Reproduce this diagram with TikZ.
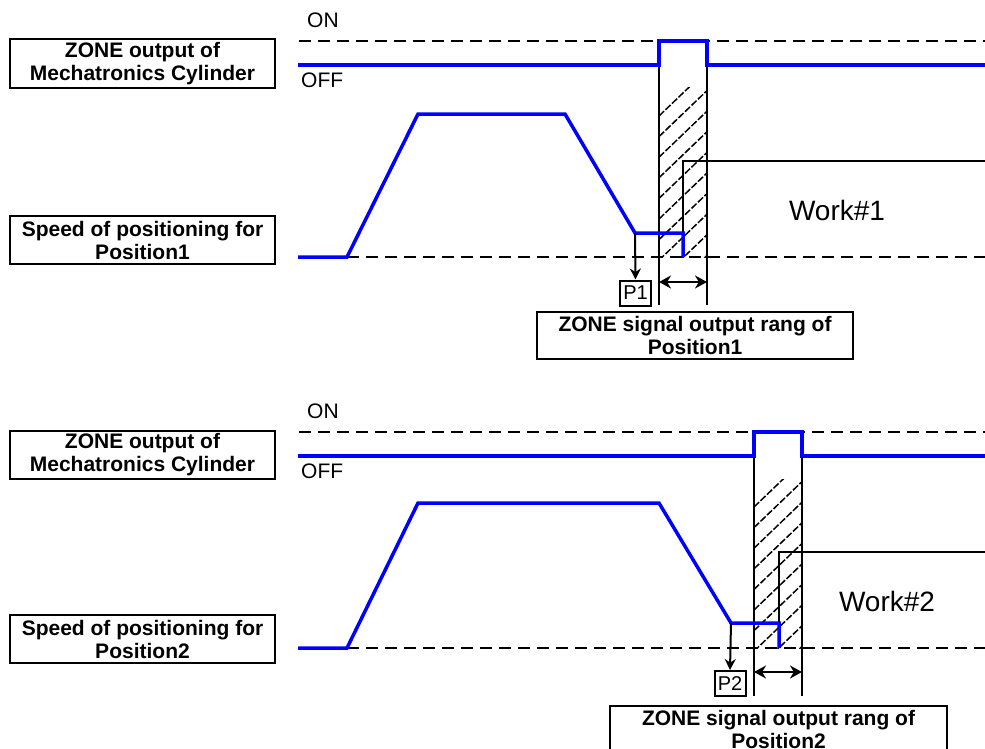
\documentclass[tikz,border=0pt]{standalone}
\usepackage{fontspec}
\setmainfont{Liberation Sans}
\usetikzlibrary{arrows.meta, positioning}
\definecolor{sigblue}{RGB}{0,0,255}
\tikzstyle{labelbox} = [rectangle, draw=black, line width=2bp, minimum width=265bp, minimum height=48bp, inner sep=0pt, align=center, font=\bfseries\fontsize{21bp}{23bp}\selectfont]
\tikzstyle{posbox} = [rectangle, draw=black, line width=2bp, minimum width=31bp, minimum height=25bp, inner sep=0pt, font=\fontsize{20bp}{22bp}\selectfont]
\tikzstyle{levtext} = [inner sep=0pt, anchor=west, font=\fontsize{21bp}{23bp}\selectfont]
\tikzstyle{worktext} = [inner sep=0pt, font=\fontsize{28bp}{30bp}\selectfont]
\tikzstyle{signal} = [draw=sigblue, line width=3.5bp]
\tikzstyle{dashline} = [line width=2.5bp, dash pattern=on 12bp off 7bp]
\tikzstyle{thinline} = [line width=2.5bp]
\tikzstyle{hatch} = [line width=1.5bp, dash pattern=on 7bp off 2bp]
\tikzstyle{arrow} = [line width=2bp, -{Stealth[length=11bp,width=11bp]}]
\tikzstyle{dblarrow} = [line width=2.5bp, {Stealth[length=12bp,width=13bp]}-{Stealth[length=12bp,width=13bp]}]

\begin{document}
\begin{tikzpicture}[x=1bp, y=-1bp]
    \useasboundingbox (0,0) rectangle (985,749);

    % Position1
    \begin{scope}
    \draw [dashline] (299,41) -- (985,41);
    \draw [dashline] (347,257) -- (985,257);
    \begin{scope}
        \clip (659,88) rectangle (707,257);
        \foreach \k in {0,...,11}
            \draw [hatch] (659,116+20.6*\k) -- ++(48,-46);
    \end{scope}
    \draw [thinline] (985,161) -- (683,161) -- (683,257);
    \draw [thinline] (659,65) -- (659,305);
    \draw [thinline] (707,65) -- (707,305);
    \draw [signal] (298,65) -- (659,65) -- (659,41) -- (707,41) -- (707,65) -- (985,65);
    \draw [signal] (298,257) -- (347,257) -- (418,114) -- (565,114) -- (635,233) -- (683,233) -- (683,257);

    \node (zone1) [labelbox] at (142.5,63.5) {ZONE output of\\Mechatronics Cylinder};
    \node (speed1) [labelbox] at (142.5,240) {Speed of positioning for\\Position1};
    \node (on1) [levtext] at (307,20) {ON};
    \node (off1) [levtext] at (301,80) {OFF};
    \node (work1) [worktext] at (837,210) {Work\#1};
    \node (p1) [posbox] at (635.5,293) {P1};
    \node (range1) [labelbox, minimum width=316bp, minimum height=47bp] at (695,335.5) {ZONE signal output rang of\\Position1};
    \coordinate (stop1) at (635,233);
    \coordinate (rl1) at (659,282);
    \coordinate (rr1) at (707,282);
    \draw [arrow] (stop1) -- (p1.north);
    \draw [dblarrow] (rl1) -- (rr1);
    \end{scope}

    % Position2
    \begin{scope}[yshift=-391bp]
    \draw [dashline] (299,41) -- (985,41);
    \draw [dashline] (347,257) -- (985,257);
    \begin{scope}
        \clip (754,88) rectangle (802,257);
        \foreach \k in {0,...,11}
            \draw [hatch] (754,116+20.6*\k) -- ++(48,-46);
    \end{scope}
    \draw [thinline] (985,161) -- (779,161) -- (779,257);
    \draw [thinline] (754,65) -- (754,305);
    \draw [thinline] (802,65) -- (802,305);
    \draw [signal] (298,65) -- (754,65) -- (754,41) -- (802,41) -- (802,65) -- (985,65);
    \draw [signal] (298,257) -- (347,257) -- (418,112) -- (659,112) -- (731,232) -- (779,232) -- (779,257);

    \node (zone2) [labelbox] at (142.5,63.5) {ZONE output of\\Mechatronics Cylinder};
    \node (speed2) [labelbox] at (142.5,248) {Speed of positioning for\\Position2};
    \node (on2) [levtext] at (307,20) {ON};
    \node (off2) [levtext] at (301,80) {OFF};
    \node (work2) [worktext] at (887,210) {Work\#2};
    \node (p2) [posbox] at (730,292.5) {P2};
    \node (range2) [labelbox, minimum width=337bp, minimum height=47bp] at (778.5,338.5) {ZONE signal output rang of\\Position2};
    \coordinate (stop2) at (731,232);
    \coordinate (rl2) at (754,281);
    \coordinate (rr2) at (802,281);
    \draw [arrow] (stop2) -- (p2.north);
    \draw [dblarrow] (rl2) -- (rr2);
    \end{scope}
\end{tikzpicture}
\end{document}
